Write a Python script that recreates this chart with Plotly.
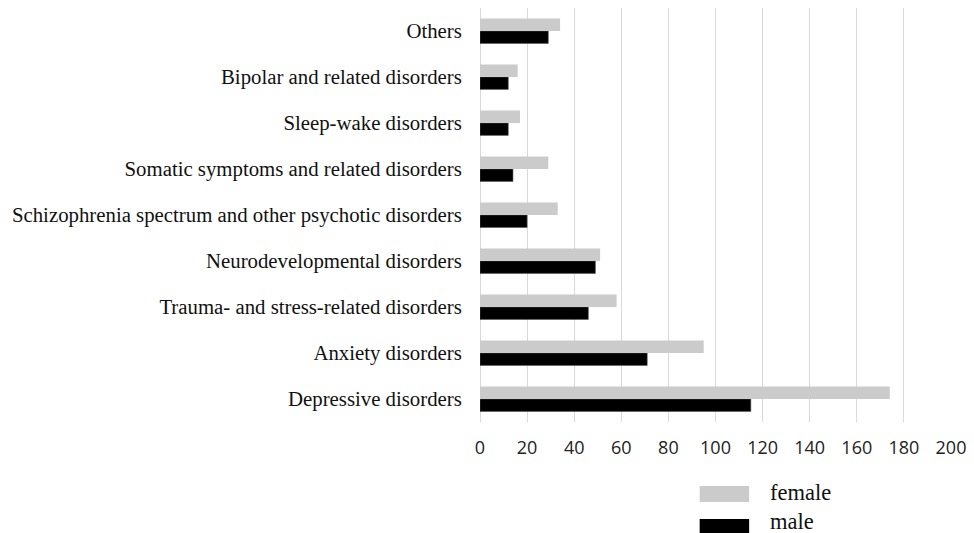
import plotly.graph_objects as go

# Diagnoses, listed bottom to top
categories = [
    "Depressive disorders",
    "Anxiety disorders",
    "Trauma- and stress-related disorders",
    "Neurodevelopmental disorders",
    "Schizophrenia spectrum and other psychotic disorders",
    "Somatic symptoms and related disorders",
    "Sleep-wake disorders",
    "Bipolar and related disorders",
    "Others",
]
female = [174, 95, 58, 51, 33, 29, 17, 16, 34]
male = [115, 71, 46, 49, 20, 14, 12, 12, 29]
x_ticks = [0, 20, 40, 60, 80, 100, 120, 140, 160, 180, 200]

FEMALE_COLOR = "#cbcbcb"
MALE_COLOR = "#000000"

W, H = 974, 533
M_L, M_R, M_T, M_B = 480, 18, 8, 111
plot_w = W - M_L - M_R
plot_h = H - M_T - M_B

fig = go.Figure()
# male first so that female sits above it within each group
fig.add_trace(go.Bar(y=categories, x=male, name="male", orientation="h",
                     marker=dict(color=MALE_COLOR, line=dict(color="#555555", width=0.6))))
fig.add_trace(go.Bar(y=categories, x=female, name="female", orientation="h",
                     marker=dict(color=FEMALE_COLOR, line=dict(width=0))))

fig.update_layout(
    width=W, height=H,
    margin=dict(l=M_L, r=M_R, t=M_T, b=M_B),
    paper_bgcolor="white", plot_bgcolor="white",
    barmode="group", bargap=0.46, bargroupgap=0,
    showlegend=False,
)
fig.update_xaxes(
    range=[0, 200], tickvals=x_ticks, ticktext=[str(v) for v in x_ticks],
    showgrid=True, gridcolor="#d9d9d9", gridwidth=1,
    zeroline=True, zerolinecolor="#d9d9d9", zerolinewidth=1,
    showline=False,
    ticks="outside", ticklen=9, tickcolor="rgba(0,0,0,0)",
    tickfont=dict(family="Open Sans, Liberation Sans, sans-serif", size=18, color="#222222"),
)
fig.update_yaxes(
    showgrid=False, zeroline=False, showline=False,
    ticks="outside", ticklen=13, tickcolor="rgba(0,0,0,0)",
    tickfont=dict(family="Liberation Serif, Times New Roman, serif", size=20.8, color="#111111"),
)

# Legend drawn below the plot with wide swatches
def px_to_paper_x(px):
    return (px - M_L) / plot_w

def py_to_paper_y(py):
    return (H - M_B - py) / plot_h

legend_items = [("female", FEMALE_COLOR, 486, 502, 492), ("male", MALE_COLOR, 519, 535, 521)]
for name, color, top, bottom, text_y in legend_items:
    fig.add_shape(type="rect", xref="paper", yref="paper",
                  x0=px_to_paper_x(702), x1=px_to_paper_x(752),
                  y0=py_to_paper_y(bottom), y1=py_to_paper_y(top),
                  fillcolor=color, line=dict(width=0))
    fig.add_annotation(xref="paper", yref="paper",
                       x=px_to_paper_x(771), y=py_to_paper_y(text_y),
                       text=name, showarrow=False, xanchor="left", yanchor="middle",
                       font=dict(family="Liberation Serif, Times New Roman, serif", size=22.5, color="#111111"))

fig.write_html("out.html")
